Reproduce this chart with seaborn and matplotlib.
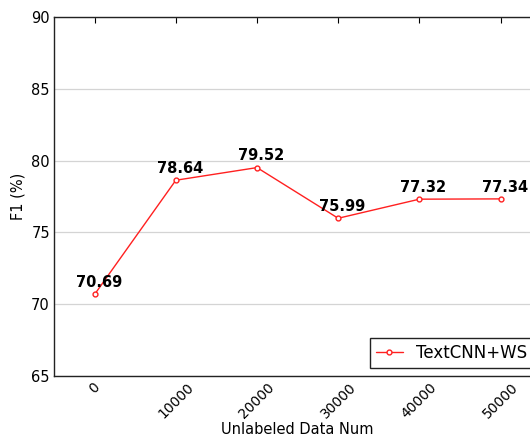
import numpy as np
import matplotlib
matplotlib.use('Agg')
import matplotlib.pyplot as plt
import pandas as pd
import seaborn as sns

# data
unlabeled_num = ['0', '10000', '20000', '30000', '40000', '50000']
f1_scores = [70.69, 78.64, 79.52, 75.99, 77.32, 77.34]
series_name = 'TextCNN+WS'

df = pd.DataFrame({'pos': np.arange(len(unlabeled_num)), 'f1': f1_scores, 'model': series_name})

sns.set_style('white')
plt.rcParams['font.family'] = ['DejaVu Sans']
plt.rcParams['text.color'] = 'black'
plt.rcParams['axes.labelcolor'] = 'black'
plt.rcParams['xtick.color'] = 'black'
plt.rcParams['ytick.color'] = 'black'

fig = plt.figure(figsize=(5.3, 4.36), dpi=100)
# axes run past the right edge, as in the reference crop
ax = fig.add_axes([0.102, 0.1376, 0.919, 0.823])

sns.lineplot(data=df, x='pos', y='f1', hue='model', palette=['#ff2020'],
             marker='o', markersize=3.5, markerfacecolor='white',
             markeredgecolor='#ff2020', markeredgewidth=1, linewidth=1, ax=ax)

for x, y in zip(df['pos'], df['f1']):
    ax.annotate('{:.2f}'.format(y), (x, y), xytext=(3, 3), textcoords='offset points',
                ha='center', va='bottom', fontsize=10.5, fontweight='bold')

ax.set_xlim(-0.5, 5.5)
ax.set_ylim(65, 90)
ax.set_xticks(df['pos'])
ax.set_xticklabels(unlabeled_num, rotation=45, fontsize=10)
ax.set_yticks([65, 70, 75, 80, 85, 90])
ax.tick_params(axis='y', labelsize=10.5)
ax.tick_params(direction='in', top=True, right=True, length=4, pad=3)
ax.yaxis.grid(True, color='#d4d4d4', linewidth=0.9)
ax.xaxis.grid(False)
for s in ax.spines.values():
    s.set_color('#222222')
    s.set_linewidth(1)

ax.set_xlabel('Unlabeled Data Num', fontsize=10.5, labelpad=1)
ax.set_ylabel('F1 (%)', fontsize=10.5)

leg = ax.legend(loc='lower right', fontsize=12, fancybox=False, framealpha=1,
                edgecolor='#222222', borderaxespad=0.5, handlelength=1.6,
                borderpad=0.35)
leg.set_title(None)

fig.savefig('out.png', dpi=100)
